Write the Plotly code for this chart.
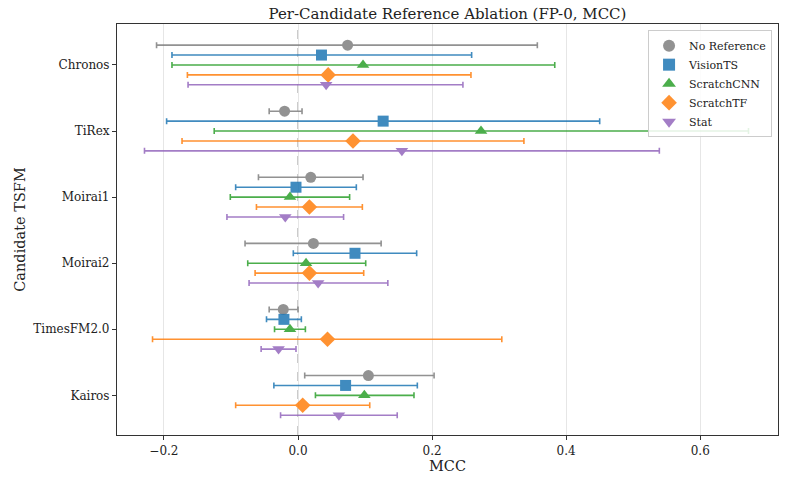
import plotly.graph_objects as go

candidates = ["Chronos", "TiRex", "Moirai1", "Moirai2", "TimesFM2.0", "Kairos"]
series = ["No Reference", "VisionTS", "ScratchCNN", "ScratchTF", "Stat"]

no_ref_mean = [0.074, -0.020, 0.019, 0.023, -0.022, 0.105]
no_ref_lo = [-0.211, -0.043, -0.059, -0.079, -0.043, 0.010]
no_ref_hi = [0.357, 0.006, 0.097, 0.124, 0.000, 0.203]

vision_mean = [0.035, 0.127, -0.003, 0.085, -0.021, 0.071]
vision_lo = [-0.188, -0.196, -0.093, -0.007, -0.047, -0.036]
vision_hi = [0.259, 0.450, 0.087, 0.177, 0.005, 0.178]

cnn_mean = [0.097, 0.273, -0.012, 0.012, -0.012, 0.099]
cnn_lo = [-0.188, -0.125, -0.101, -0.075, -0.035, 0.026]
cnn_hi = [0.383, 0.672, 0.077, 0.101, 0.011, 0.173]

tf_mean = [0.045, 0.082, 0.017, 0.017, 0.044, 0.007]
tf_lo = [-0.165, -0.173, -0.062, -0.064, -0.217, -0.093]
tf_hi = [0.258, 0.337, 0.096, 0.098, 0.304, 0.107]

stat_mean = [0.042, 0.155, -0.019, 0.030, -0.029, 0.061]
stat_lo = [-0.164, -0.229, -0.106, -0.073, -0.055, -0.026]
stat_hi = [0.246, 0.539, 0.068, 0.134, -0.003, 0.148]

x_ticks = [-0.2, 0.0, 0.2, 0.4, 0.6]
x_tick_labels = ["\u22120.2", "0.0", "0.2", "0.4", "0.6"]

data = [
    (no_ref_mean, no_ref_lo, no_ref_hi),
    (vision_mean, vision_lo, vision_hi),
    (cnn_mean, cnn_lo, cnn_hi),
    (tf_mean, tf_lo, tf_hi),
    (stat_mean, stat_lo, stat_hi),
]
colors = ["#7f7f7f", "#1f77b4", "#2ca02c", "#ff7f0e", "#9467bd"]
symbols = ["circle", "square", "triangle-up", "diamond", "triangle-down"]
sizes = [11, 11, 11, 12, 11]
offsets = [-0.3, -0.15, 0.0, 0.15, 0.3]

FONT = "DejaVu Serif"
fig = go.Figure()

fig.add_shape(type="line", x0=0, x1=0, y0=0, y1=1, xref="x", yref="paper",
              line=dict(color="#aaaaaa", width=1.2, dash="dash"), layer="below")

for name, (m, lo, hi), c, s, sz, off in zip(series, data, colors, symbols, sizes, offsets):
    ys = [i + off for i in range(len(candidates))]
    fig.add_trace(go.Scatter(
        x=m, y=ys, mode="markers", name=name,
        marker=dict(color=c, symbol=s, size=sz, line=dict(width=0)),
        opacity=0.85,
        error_x=dict(type="data", symmetric=False,
                     array=[h - v for h, v in zip(hi, m)],
                     arrayminus=[v - l for v, l in zip(m, lo)],
                     color=c, thickness=1.6, width=3),
    ))

fig.update_layout(
    width=785, height=481,
    margin=dict(l=117, r=7, t=24, b=46),
    paper_bgcolor="white", plot_bgcolor="white",
    font=dict(family=FONT, size=12, color="#222222"),
    title=dict(text="Per-Candidate Reference Ablation (FP-0, MCC)", x=0.5, xanchor="center",
               xref="paper", yref="container",
               y=1 - 13.5 / 481, yanchor="middle", font=dict(size=15, family=FONT, color="#222222")),
    showlegend=True,
    legend=dict(x=0.991, xanchor="right", y=0.985, yanchor="top",
                bgcolor="rgba(255,255,255,0.85)", bordercolor="#cccccc", borderwidth=1,
                font=dict(size=11, family=FONT), tracegroupgap=0, itemsizing="constant"),
)
fig.update_xaxes(
    range=[-0.270, 0.716], tickvals=x_ticks, ticktext=x_tick_labels,
    showgrid=True, gridcolor="#e6e6e6", gridwidth=1, zeroline=False,
    showline=True, linecolor="#333333", linewidth=1.2, mirror=True,
    ticks="outside", ticklen=4, tickcolor="#333333",
    title=dict(text="MCC", font=dict(size=14.5, family=FONT), standoff=4),
    tickfont=dict(size=12, family=FONT),
)
fig.update_yaxes(
    range=[5.6, -0.62], tickvals=list(range(len(candidates))), ticktext=candidates,
    showgrid=False, zeroline=False,
    showline=True, linecolor="#333333", linewidth=1.2, mirror=True,
    ticks="outside", ticklen=4, tickcolor="#333333",
    title=dict(text="Candidate TSFM", font=dict(size=14.5, family=FONT), standoff=4),
    tickfont=dict(size=12, family=FONT),
)

fig.write_html("out.html")
